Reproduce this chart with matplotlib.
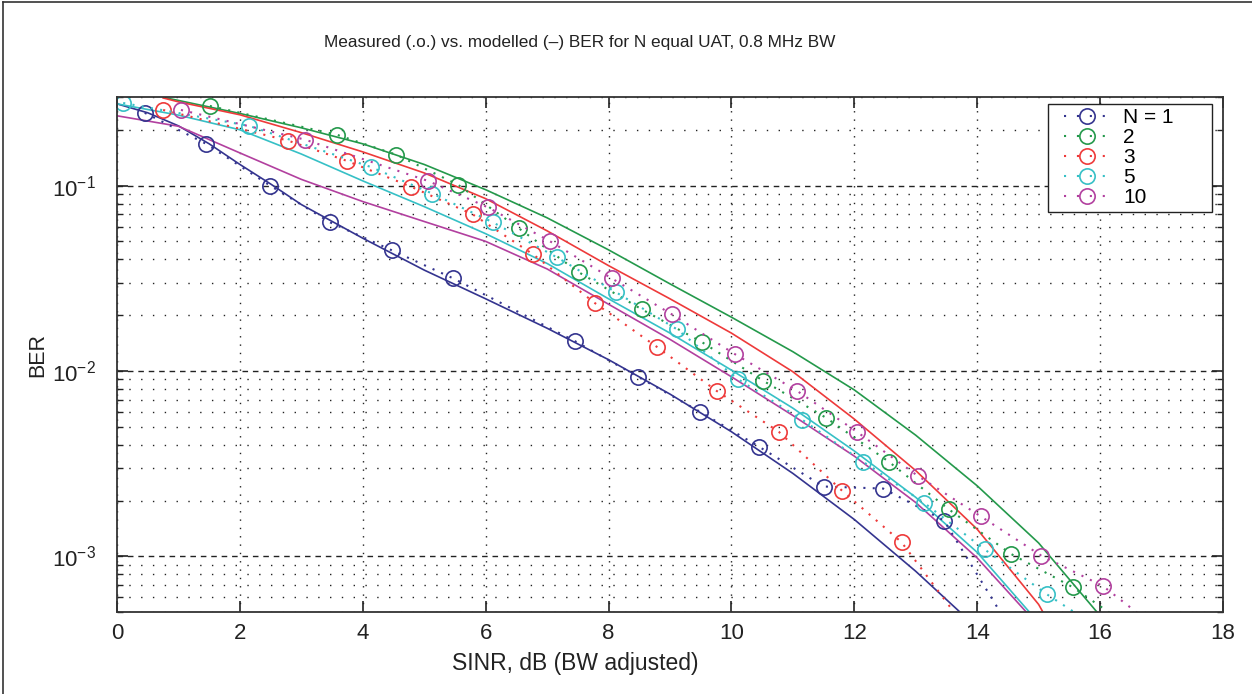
import matplotlib
matplotlib.use('Agg')
import matplotlib.pyplot as plt
from matplotlib.lines import Line2D
from matplotlib.legend_handler import HandlerLine2D
from matplotlib.ticker import LogLocator, NullFormatter

# series names / colours
labels = ['N = 1', '2', '3', '5', '10']
colors = ['#34348f', '#24994b', '#ee3a3a', '#36c0c6', '#b2409f']

# measured BER (circles joined by dotted line)
meas_x = [
    [0.45, 1.45, 2.49, 3.47, 4.47, 5.47, 7.45, 8.48, 9.49, 10.45, 11.5, 12.47, 13.46, 14.46],
    [1.51, 3.58, 4.54, 5.55, 6.54, 7.52, 8.54, 9.52, 10.52, 11.54, 12.56, 13.54, 14.55, 15.56, 16.56],
    [0.75, 2.78, 3.74, 4.78, 5.79, 6.77, 7.78, 8.79, 9.76, 10.77, 11.8, 12.77, 13.77],
    [0.1, 2.15, 4.13, 5.13, 6.12, 7.16, 8.12, 9.11, 10.1, 11.15, 12.14, 13.13, 14.12, 15.13, 16.13],
    [1.04, 3.06, 5.06, 6.04, 7.05, 8.05, 9.03, 10.06, 11.07, 12.04, 13.03, 14.06, 15.04, 16.05, 17.05],
]
meas_ber = [
    [0.247, 0.168, 0.100, 0.0633, 0.0448, 0.0316, 0.0145, 0.0093, 0.00602, 0.0039, 0.00238, 0.00232, 0.00156, 0.00045],
    [0.269, 0.188, 0.147, 0.101, 0.0588, 0.034, 0.0215, 0.0143, 0.00884, 0.00559, 0.00324, 0.00179, 0.00103, 0.00068, 0.0004],
    [0.256, 0.175, 0.136, 0.0988, 0.0699, 0.0426, 0.0232, 0.01346, 0.0078, 0.0047, 0.00226, 0.00119, 0.00043],
    [0.279, 0.21, 0.126, 0.0906, 0.0633, 0.041, 0.0266, 0.0168, 0.00906, 0.00546, 0.00324, 0.00195, 0.00109, 0.000625, 0.00038],
    [0.256, 0.177, 0.106, 0.0762, 0.05, 0.0316, 0.0202, 0.0123, 0.0078, 0.0047, 0.00272, 0.00164, 0.00101, 0.00069, 0.00038],
]

# modelled BER (solid line)
model_x = [
    [0, 0.5, 1, 1.5, 2, 2.5, 3, 4, 5, 6, 7, 8, 9, 10, 11, 12, 13, 13.72],
    [0.8, 1, 2, 3, 4, 5, 6, 7, 8, 9, 10, 11, 12, 13, 14, 15, 15.95],
    [0.75, 1, 2, 3, 4, 5, 6, 7, 8, 9, 10, 11, 12, 13, 14, 15, 15.07],
    [0, 1, 2, 3, 4, 5, 6, 7, 8, 9, 10, 11, 12, 13, 14, 14.85],
    [0, 1, 2, 3, 4, 5, 6, 7, 8, 9, 10, 11, 12, 13, 14, 14.8],
]
model_ber = [
    [0.276, 0.247, 0.21, 0.168, 0.13, 0.102, 0.079, 0.052, 0.035, 0.0245, 0.017, 0.0115,
     0.0075, 0.0047, 0.0028, 0.00158, 0.00083, 0.0005],
    [0.297, 0.288, 0.245, 0.205, 0.168, 0.13, 0.095, 0.067, 0.045, 0.0295, 0.0195, 0.0127,
     0.0079, 0.0045, 0.0024, 0.00118, 0.0005],
    [0.297, 0.283, 0.241, 0.193, 0.152, 0.117, 0.085, 0.057, 0.037, 0.0245, 0.016, 0.0099,
     0.0055, 0.0029, 0.0014, 0.00055, 0.0005],
    [0.276, 0.24, 0.2, 0.148, 0.106, 0.077, 0.055, 0.038, 0.0245, 0.016, 0.0101, 0.0063,
     0.0037, 0.00208, 0.00105, 0.0005],
    [0.238, 0.209, 0.15, 0.108, 0.082, 0.064, 0.05, 0.0355, 0.0229, 0.0148, 0.0093, 0.00575,
     0.00347, 0.00195, 0.00098, 0.0005],
]

xticks = [0, 2, 4, 6, 8, 10, 12, 14, 16, 18]

plt.rcParams['font.family'] = ['Liberation Sans', 'DejaVu Sans']
plt.rcParams['mathtext.fontset'] = 'custom'
plt.rcParams['mathtext.rm'] = 'Liberation Sans'
plt.rcParams['mathtext.it'] = 'Liberation Sans'

fig = plt.figure(figsize=(12.52, 6.94), dpi=100)
ax = fig.add_axes([0.0935, 0.118, 0.8833, 0.742])

# modelled curves first, then measured on top
for mx, my, c in zip(model_x, model_ber, colors):
    ax.plot(mx, my, '-', color=c, lw=1.2)

for mx, my, c, lab in zip(meas_x, meas_ber, colors, labels):
    ax.plot(mx, my, linestyle=(0, (1, 3.5)), lw=1.5, color=c, marker='o',
            markersize=11, markerfacecolor='none', markeredgewidth=1.2, label=lab)

ax.set_yscale('log')
ax.set_xlim(0, 18)
ax.set_ylim(5e-4, 0.3)
ax.set_xticks(xticks)
ax.yaxis.set_major_locator(LogLocator(base=10, numticks=10))
ax.yaxis.set_minor_locator(LogLocator(base=10, subs=range(2, 10), numticks=20))
ax.yaxis.set_minor_formatter(NullFormatter())

# matlab style grid
ax.xaxis.grid(True, which='major', linestyle=(0, (1, 5)), color='#222222', lw=1.0)
ax.yaxis.grid(True, which='major', linestyle=(0, (4, 3.5)), color='#222222', lw=1.0)
ax.yaxis.grid(True, which='minor', linestyle=(0, (1, 7.5)), color='#222222', lw=1.0)
ax.set_axisbelow(True)

ax.tick_params(which='both', direction='in', top=True, right=True, labelsize=16, colors='#222222')
ax.tick_params(which='major', length=8, width=1.2)
ax.tick_params(which='minor', length=4, width=1.0)
ax.tick_params(axis='x', which='major', pad=8)
ax.tick_params(axis='y', which='major', pad=15)
for s in ax.spines.values():
    s.set_linewidth(1.3)
    s.set_color('#333333')

fig.text(0.463, 1 - 42 / 694, 'Measured (.o.) vs. modelled (\u2013) BER for N equal UAT, 0.8 MHz BW',
         fontsize=12.4, ha='center', va='center', color='#222222')
ax.set_xlabel('SINR, dB (BW adjusted)', fontsize=16.5, color='#222222')
ax.xaxis.set_label_coords(0.414, -0.078)
ax.set_ylabel('BER', fontsize=15.5, color='#222222')
ax.yaxis.set_label_coords(-0.0624, 0.499)

leg = ax.legend(loc='upper left', bbox_to_anchor=(0.8418, 0.5, 0.148, 0.4864), mode='expand',
                borderaxespad=0, fancybox=False, framealpha=1, edgecolor='#222222', fontsize=15,
                handlelength=2.78, labelspacing=0.05, borderpad=0.2, handletextpad=0.62,
                handler_map={Line2D: HandlerLine2D(xpad=0.58)})
for hl in leg.get_lines():
    hl.set_dashes([1, 5.2])

# frame around the picture (top and left edges)
fig.add_artist(Line2D([0.002, 0.002], [0, 0.997], transform=fig.transFigure, color='#333333', lw=1.2))
fig.add_artist(Line2D([0.002, 1], [0.997, 0.997], transform=fig.transFigure, color='#333333', lw=1.2))

fig.savefig('out.png', dpi=100)
